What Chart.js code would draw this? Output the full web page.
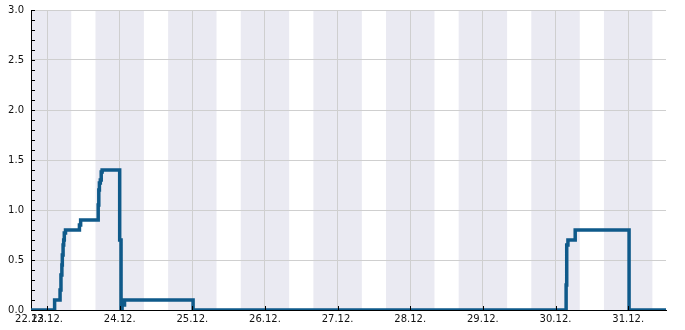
<!DOCTYPE html>
<html><head><meta charset="utf-8">
<script src="https://cdn.jsdelivr.net/npm/chart.js@4/dist/chart.umd.min.js"></script>
<style>html,body{margin:0;padding:0;background:#fff}</style>
</head><body>
<canvas id="c" width="685" height="330"></canvas>
<script>
// Time in hours relative to 23.12. 00:00
const hours  = [-5.3, 2.5, 4.3, 4.6, 4.9, 5.05, 5.3, 5.5, 5.7, 6.1, 10.7, 11.1, 16.9, 17.1, 17.3, 17.6, 17.9, 18.2, 24.0, 24.45, 24.8, 25.6, 48.25, 171.5, 171.7, 172.1, 174.5, 192.3, 204.5];
const values = [0, 0.1, 0.2, 0.35, 0.45, 0.55, 0.65, 0.7, 0.77, 0.8, 0.85, 0.9, 1.05, 1.2, 1.27, 1.3, 1.38, 1.4, 0.7, 0, 0.05, 0.1, 0, 0.25, 0.65, 0.7, 0.8, 0, 0];
const dayTickHours  = [0, 24, 48, 72, 96, 120, 144, 168, 192];
const dayTickLabels = ['23.12.', '24.12.', '25.12.', '26.12.', '27.12.', '28.12.', '29.12.', '30.12.', '31.12.'];
const axisStartLabel = '22.12.';
const xMin = -5.3, xMax = 204.5;
const nightStarts = [-8, 16, 40, 64, 88, 112, 136, 160, 184];
const nightLength = 16;
const yMin = 0, yMax = 3;

const isMajorY = v => Math.abs(v * 2 - Math.round(v * 2)) < 1e-6;

const decor = {
  id: 'decor',
  beforeDraw(chart) {
    const {ctx, chartArea: a, scales: {x}} = chart;
    ctx.save();
    ctx.fillStyle = '#eaeaf2';
    nightStarts.forEach(s => {
      const x0 = Math.max(x.getPixelForValue(s), a.left);
      const x1 = Math.min(x.getPixelForValue(s + nightLength), a.right);
      if (x1 > x0) ctx.fillRect(x0, a.top, x1 - x0, a.bottom - a.top);
    });
    ctx.restore();
  },
  afterDraw(chart) {
    const {ctx, chartArea: a, scales: {x, y}} = chart;
    ctx.save();
    ctx.strokeStyle = '#000';
    ctx.lineWidth = 1;
    ctx.beginPath();
    dayTickHours.forEach(h => {
      const px = Math.round(x.getPixelForValue(h)) + 0.5;
      ctx.moveTo(px, a.bottom);
      ctx.lineTo(px, a.bottom - 4);
    });
    y.ticks.forEach(t => {
      const py = Math.round(y.getPixelForValue(t.value)) + 0.5;
      ctx.moveTo(a.left, py);
      ctx.lineTo(a.left + 4, py);
    });
    ctx.stroke();
    ctx.restore();
  }
};

new Chart(document.getElementById('c'), {
  type: 'line',
  data: {
    datasets: [{
      data: hours.map((h, i) => ({x: h, y: values[i]})),
      borderColor: '#0f5a8a',
      borderWidth: 3.5,
      pointRadius: 0,
      stepped: true,
      fill: false
    }]
  },
  options: {
    responsive: false,
    animation: false,
    layout: {padding: {top: 10, right: 19, left: 0, bottom: 0}},
    plugins: {legend: {display: false}, tooltip: {enabled: false}},
    scales: {
      x: {
        type: 'linear',
        min: xMin, max: xMax,
        afterBuildTicks: s => {
          s.ticks = [{value: xMin}].concat(dayTickHours.map(v => ({value: v})));
        },
        afterFit: s => { s.height = 20; s.paddingLeft = 0; s.paddingRight = 0; },
        ticks: {
          autoSkip: false, maxRotation: 0, padding: 3,
          color: '#111',
          font: {family: 'DejaVu Sans', size: 10},
          callback: v => v === xMin ? axisStartLabel : dayTickLabels[dayTickHours.indexOf(v)]
        },
        grid: {
          drawTicks: false,
          color: c => (c.tick && c.tick.value === xMin) ? 'rgba(0,0,0,0)' : '#cfcfcf',
          lineWidth: 1
        },
        border: {color: '#000', width: 1}
      },
      y: {
        min: yMin, max: yMax,
        afterFit: s => { s.width = 31; s.paddingTop = 0; s.paddingBottom = 0; },
        ticks: {
          stepSize: 0.1, autoSkip: false, padding: 7,
          color: '#111',
          font: {family: 'DejaVu Sans', size: 10},
          callback: v => isMajorY(v) ? v.toFixed(1) : ''
        },
        grid: {
          drawTicks: false,
          color: c => (c.tick && isMajorY(c.tick.value)) ? '#cfcfcf' : 'rgba(0,0,0,0)',
          lineWidth: 1
        },
        border: {color: '#000', width: 1}
      }
    }
  },
  plugins: [decor]
});
</script>
</body></html>
